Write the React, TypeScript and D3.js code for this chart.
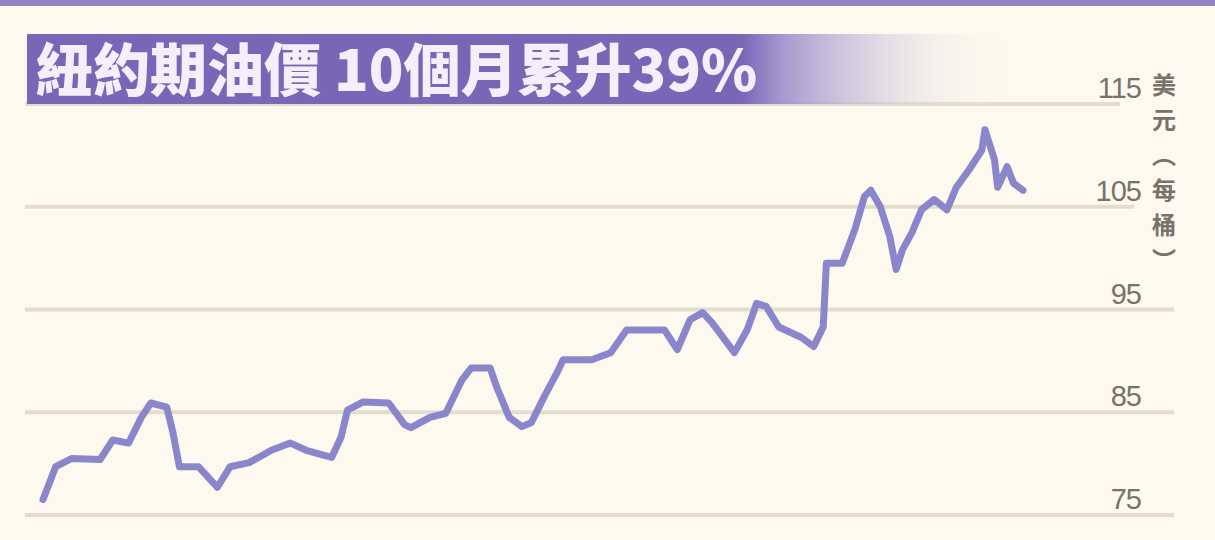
import { useEffect, useRef } from 'react';
import * as d3 from 'd3';

// trading-day offset since start of the period
const days = [
  0, 4, 9, 18, 22, 27, 31, 34, 39, 41, 43, 49, 55, 59, 65, 72, 78, 83, 91, 94,
  96, 101, 109, 114, 116, 122, 127, 132, 135, 141, 143, 147, 151, 154, 158, 162,
  164, 173, 179, 184, 189, 196, 200, 204, 208, 211, 218, 222, 225, 228, 232, 239,
  243, 246, 247, 252, 256, 259, 261, 264, 267, 269, 271, 274, 277, 281, 285, 288,
  292, 296, 297, 300, 301, 304, 306, 309,
];

// NYMEX crude, USD per barrel
const prices = [
  76.5, 79.7, 80.5, 80.4, 82.3, 82.0, 84.5, 85.9, 85.5, 83.0, 79.7, 79.7, 77.7,
  79.7, 80.1, 81.3, 82.0, 81.3, 80.6, 82.6, 85.2, 86.0, 85.9, 83.8, 83.5, 84.5,
  84.9, 88.1, 89.3, 89.3, 87.5, 84.5, 83.6, 84.0, 86.5, 88.8, 90.1, 90.1, 90.8,
  93.0, 93.0, 93.0, 91.1, 94.0, 94.7, 93.7, 90.8, 93.0, 95.6, 95.3, 93.3, 92.3,
  91.4, 93.3, 99.5, 99.5, 102.8, 106.0, 106.6, 105.0, 102.1, 98.9, 100.8, 102.5,
  104.7, 105.7, 104.7, 106.9, 108.6, 110.5, 112.5, 109.6, 106.9, 108.9, 107.3,
  106.6,
];

const yTicks = [75, 85, 95, 105, 115];
const title = '紐約期油價 10個月累升39%';
const unitChars = ['美', '元', '︵', '每', '桶', '︶'];

const W = 1215;
const H = 540;

const App = () => {
  const svgRef = useRef<SVGSVGElement>(null);

  useEffect(() => {
    if (!svgRef.current) return;
    const svg = d3.select(svgRef.current);
    svg.selectAll('*').remove();

    const x = d3.scaleLinear().domain([0, 309]).range([43, 1023]);
    const y = d3.scaleLinear().domain([75, 115]).range([515, 104]);

    // background
    svg.append('rect').attr('width', W).attr('height', H).attr('fill', '#fdf9ee');
    svg.append('rect').attr('width', W).attr('height', 6).attr('fill', '#9383c3');

    // gridlines
    svg.selectAll('.grid')
      .data(yTicks)
      .join('line')
      .attr('class', 'grid')
      .attr('x1', 25)
      .attr('x2', d => (d >= 115 ? 1120 : d >= 105 ? 1134 : 1174))
      .attr('y1', d => y(d))
      .attr('y2', d => y(d))
      .attr('stroke', '#e2ddcd')
      .attr('stroke-width', 4);

    // tick labels
    svg.selectAll('.tick')
      .data(yTicks)
      .join('text')
      .attr('class', 'tick')
      .attr('x', 1141)
      .attr('y', d => y(d) - 6)
      .attr('text-anchor', 'end')
      .attr('font-family', '"Liberation Sans Narrow", "Liberation Sans", sans-serif')
      .attr('font-size', 29)
      .attr('fill', '#77736b')
      .attr('letter-spacing', -1)
      .text(d => d);

    // unit, vertical
    svg.selectAll('.unit')
      .data(unitChars)
      .join('text')
      .attr('class', 'unit')
      .attr('x', 1164)
      .attr('y', (_, i) => 94 + i * 35)
      .attr('text-anchor', 'middle')
      .attr('font-family', '"Noto Sans CJK TC", sans-serif')
      .attr('font-size', 24)
      .attr('font-weight', 700)
      .attr('fill', '#77736b')
      .text(d => d);

    // title box with fading gradient
    const grad = svg.append('defs').append('linearGradient')
      .attr('id', 'titleGrad')
      .attr('x1', 0).attr('x2', 1).attr('y1', 0).attr('y2', 0);
    grad.append('stop').attr('offset', '0%').attr('stop-color', '#7a66b6').attr('stop-opacity', 1);
    grad.append('stop').attr('offset', '73%').attr('stop-color', '#7a66b6').attr('stop-opacity', 1);
    grad.append('stop').attr('offset', '77%').attr('stop-color', '#9c8dcb').attr('stop-opacity', 0.9);
    grad.append('stop').attr('offset', '100%').attr('stop-color', '#fdf9ee').attr('stop-opacity', 0);

    svg.append('rect')
      .attr('x', 27)
      .attr('y', 34)
      .attr('width', 980)
      .attr('height', 70)
      .attr('fill', 'url(#titleGrad)');

    svg.append('text')
      .attr('x', 36)
      .attr('y', 91)
      .attr('font-family', '"Noto Sans CJK TC", sans-serif')
      .attr('font-weight', 900)
      .attr('font-size', 57)
      .attr('fill', '#f4f0fb')
      .attr('letter-spacing', 0)
      .text(title);

    // price line
    const line = d3.line<number>()
      .x((_, i) => x(days[i]))
      .y(d => y(d));

    svg.append('path')
      .datum(prices)
      .attr('fill', 'none')
      .attr('stroke', '#8a86cb')
      .attr('stroke-width', 7)
      .attr('stroke-linejoin', 'round')
      .attr('stroke-linecap', 'round')
      .attr('d', line);
  }, []);

  return (
    <svg
      ref={svgRef}
      width={W}
      height={H}
      style={{ position: 'absolute', left: 0, top: 0, display: 'block' }}
    />
  );
};

export default App;
